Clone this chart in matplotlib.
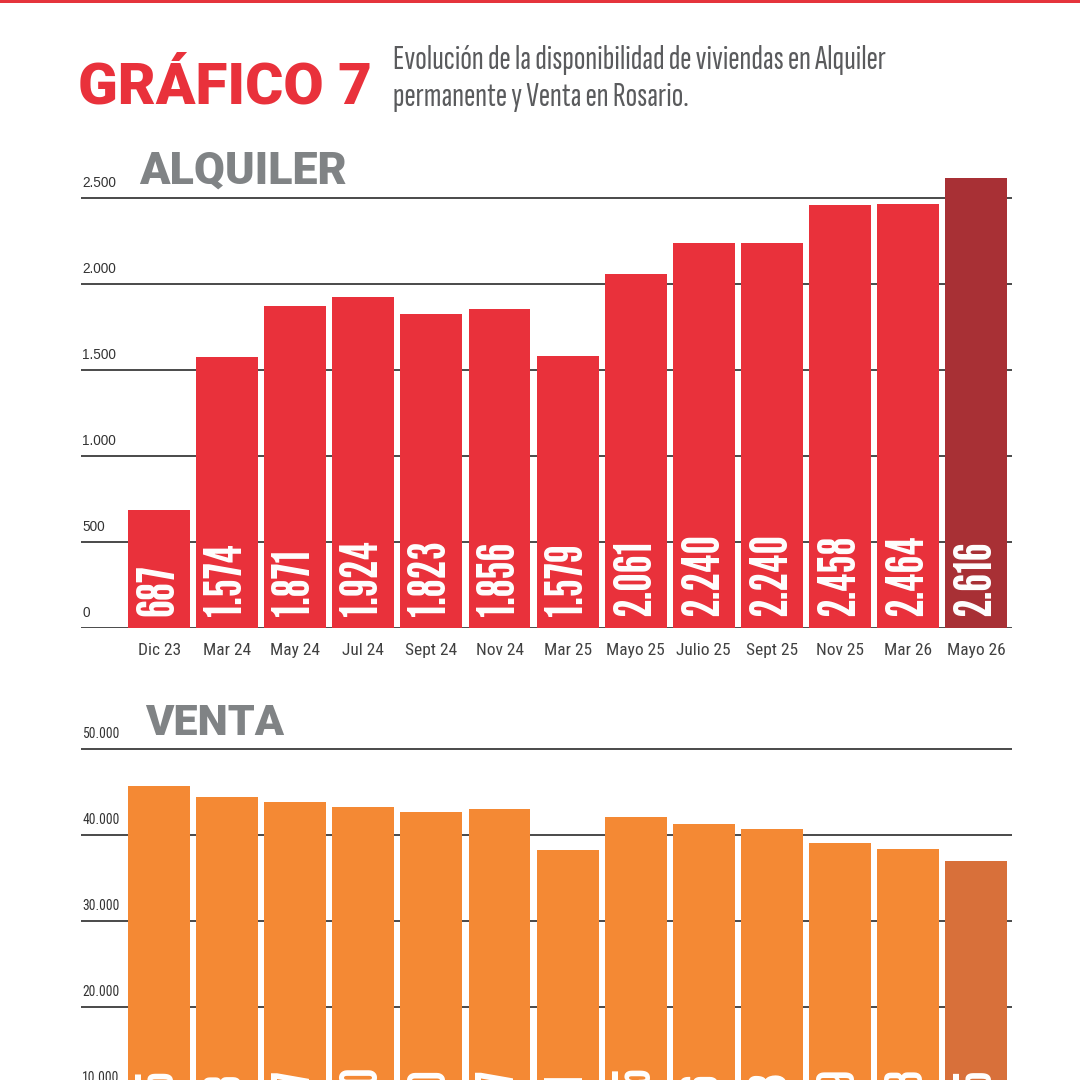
import matplotlib
matplotlib.use("Agg")
import matplotlib.pyplot as plt
from matplotlib.patches import Rectangle

# -----------------------------
# Data
# -----------------------------
meses = ["Dic 23", "Mar 24", "May 24", "Jul 24", "Sept 24", "Nov 24", "Mar 25",
         "Mayo 25", "Julio 25", "Sept 25", "Nov 25", "Mar 26", "Mayo 26"]
alquiler = [687, 1574, 1871, 1924, 1823, 1856, 1579, 2061, 2240, 2240, 2458, 2464, 2616]
venta = [45735, 44418, 43867, 43330, 42670, 43087, 38261, 42095, 41286, 40773,
         39069, 38408, 36985]
alquiler_ticks = [0, 500, 1000, 1500, 2000, 2500]
venta_ticks = [0, 10000, 20000, 30000, 40000, 50000]

titulo = "GRÁFICO 7"
subtitulo = ["Evolución de la disponibilidad de viviendas en Alquiler",
             "permanente y Venta en Rosario."]

ROJO = "#e9313b"
ROJO_OSC = "#a83035"
NARANJA = "#f48934"
NARANJA_OSC = "#d8703a"
GRIS = "#808385"

HEAVY = ["Roboto", "DejaVu Sans"]
COND = ["Roboto Condensed", "DejaVu Sans"]
LIGHT = ["Sofia Sans Extra Condensed", "DejaVu Sans"]
NUM = ["League Gothic", "DejaVu Sans"]
SANS = ["Liberation Sans", "DejaVu Sans"]

W = H = 1080


def fx(x):
    return x / W


def fy(y):
    return 1 - y / H


def miles(v):
    return f"{v:,}".replace(",", ".")


fig = plt.figure(figsize=(10.8, 10.8), dpi=100)
fig.patch.set_facecolor("white")
renderer = fig.canvas.get_renderer()


def size_for(text, family, target_px, rotation=0, weight="normal"):
    # font size so that the text spans target_px along its reading direction
    probe = fig.text(0, 0, text, family=family, fontsize=20, rotation=rotation,
                     fontweight=weight)
    bb = probe.get_window_extent(renderer)
    probe.remove()
    span = bb.height if rotation == 90 else bb.width
    return 20 * target_px / span


# red rule on top
fig.add_artist(Rectangle((0, fy(3)), 1, 3 / H, transform=fig.transFigure,
                         color="#e5343c", lw=0))

# -----------------------------
# Header
# -----------------------------
fs_tit = size_for(titulo, HEAVY, 294, weight="black")
fig.text(fx(78), fy(104), titulo, family=HEAVY, fontweight="black", fontsize=fs_tit,
         color=ROJO, va="baseline", ha="left")
fs_sub = size_for(subtitulo[0], LIGHT, 493)
fig.text(fx(393), fy(69), subtitulo[0], family=LIGHT, fontsize=fs_sub,
         color="#5a5b5d", va="baseline", ha="left")
fig.text(fx(393), fy(106), subtitulo[1], family=LIGHT, fontsize=fs_sub,
         color="#5a5b5d", va="baseline", ha="left")

fs_num = size_for("1.574", NUM, 73, rotation=90)


def panel(ax, vals, ticks, top, colores, tick_font, nombre, nombre_x, nombre_y, ancho):
    ax.set_xlim(-1.149, 12.53)
    ax.set_ylim(0, top)
    for t in ticks:
        ax.axhline(t, color="#3c3c3c", lw=1.3, zorder=1)
        ax.annotate(miles(t), xy=(0, t), xycoords=("axes fraction", "data"),
                    xytext=(1, 8), textcoords="offset points", ha="left",
                    va="baseline", fontsize=9.8, family=tick_font, color="#333333")
    ax.bar(range(len(vals)), vals, width=0.91, color=colores, zorder=2)
    for i, v in enumerate(vals):
        ax.annotate(miles(v), xy=(i, 0), xytext=(0, 9), textcoords="offset points",
                    rotation=90, ha="center", va="bottom", color="white",
                    fontsize=fs_num, family=NUM, zorder=3)
    ax.set_xticks(range(len(meses)))
    ax.set_xticklabels(meses, family=COND, fontsize=12.5, color="#404040")
    ax.tick_params(axis="x", length=0, pad=11)
    ax.set_yticks([])
    for s in ax.spines.values():
        s.set_visible(False)
    ax.patch.set_alpha(0)
    fs = size_for(nombre, HEAVY, ancho, weight="black")
    fig.text(fx(nombre_x), fy(nombre_y), nombre, family=HEAVY, fontweight="black",
             fontsize=fs, color=GRIS, va="baseline", ha="left")


# -----------------------------
# Alquiler
# -----------------------------
px_alq = 430 / 2500
ax1 = fig.add_axes([fx(81), fy(628), (1012 - 81) / W, 2700 * px_alq / H])
panel(ax1, alquiler, alquiler_ticks, 2700,
      [ROJO] * (len(alquiler) - 1) + [ROJO_OSC], SANS, "ALQUILER", 139, 184, 208)

# -----------------------------
# Venta
# -----------------------------
px_ven = 430 / 50000
ax2 = fig.add_axes([fx(81), fy(1179.3), (1012 - 81) / W, 51000 * px_ven / H])
panel(ax2, venta, venta_ticks, 51000,
      [NARANJA] * (len(venta) - 1) + [NARANJA_OSC], COND, "VENTA", 145, 735, 139)

fig.savefig("out.png", dpi=100)
plt.close(fig)
